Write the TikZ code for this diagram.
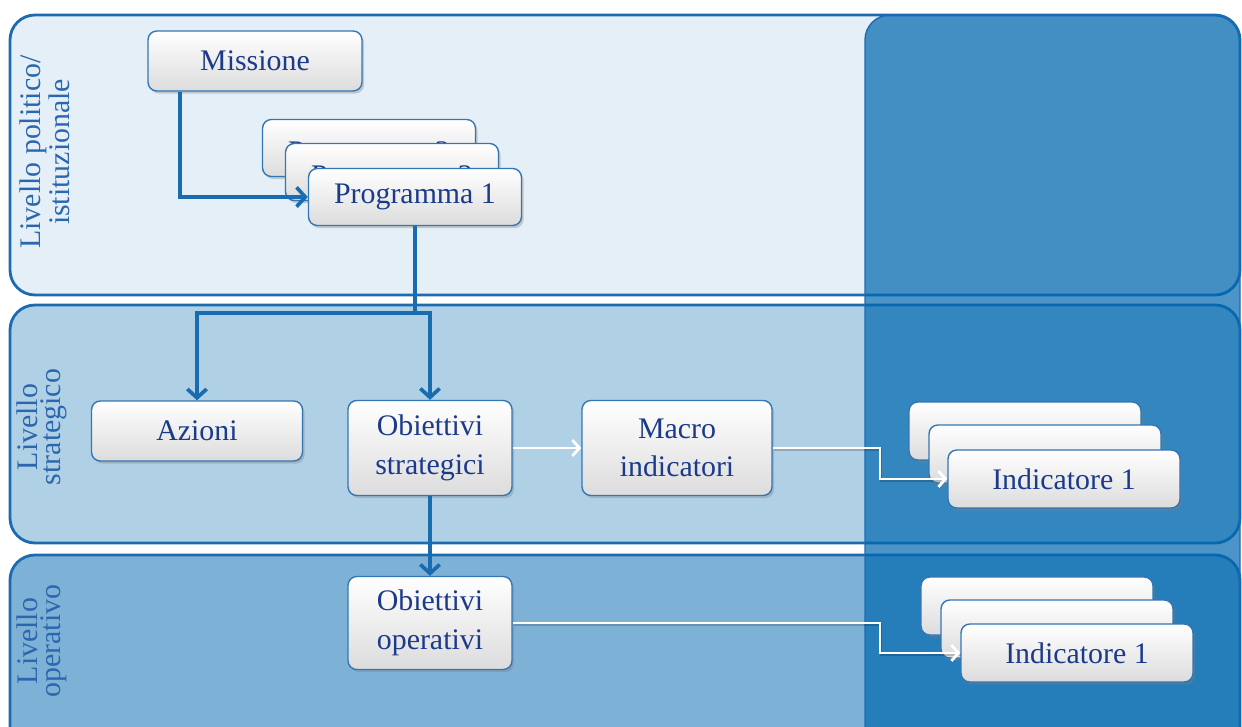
\documentclass[tikz,border=0pt]{standalone}
\usepackage{fontspec}
\setmainfont{Liberation Serif}
\usetikzlibrary{arrows.meta, positioning, shadows, calc}

\definecolor{bandone}{HTML}{E4EFF7}
\definecolor{bandtwo}{HTML}{B0D0E6}
\definecolor{bandthree}{HTML}{7EB1D6}
\definecolor{bandline}{HTML}{1C6BB0}
\definecolor{shadeblue}{RGB}{0,103,175}
\definecolor{boxline}{HTML}{3476B4}
\definecolor{boxgray}{HTML}{DCDCDC}
\definecolor{boxtext}{HTML}{1B3A8A}
\definecolor{labelblue}{HTML}{2A67AE}
\definecolor{linkblue}{HTML}{1A6CB0}

% text of the boxes lying behind, pushed down
\newcommand{\behind}[1]{\raisebox{-4pt}[\height][\depth]{#1}}

\begin{document}
\begin{tikzpicture}[x=0.02cm, y=-0.02cm,
    band/.style={draw=bandline, line width=1.6pt, rounded corners=0.5cm},
    box/.style={draw=boxline, line width=0.8pt, rounded corners=5pt,
        top color=white, bottom color=boxgray,
        drop shadow={shadow xshift=1.2pt, shadow yshift=-1.5pt, opacity=0.35},
        text=boxtext, font=\fontsize{17}{22}\selectfont, align=center, inner sep=2pt},
    progsize/.style={minimum width=4.26cm, minimum height=1.14cm},
    indsize/.style={minimum width=4.64cm, minimum height=1.16cm},
    levellabel/.style={rotate=90, text=labelblue, font=\fontsize{17}{13}\selectfont, align=center},
    link/.style={draw=linkblue, line width=2.1pt, -{Straight Barb[length=5pt,width=11pt]}},
    wlink/.style={draw=white, line width=1.6pt, -{Straight Barb[length=4pt,width=9pt]}},
    wshadow/.style={draw=black, opacity=0.18, line width=1.6pt, transform canvas={xshift=0.6pt, yshift=-0.8pt}}
  ]
  \useasboundingbox (0,0) rectangle (1242,727);
  \clip (0,0) rectangle (1242,727);

  % the three levels
  \draw[band, fill=bandone] (10,15) rectangle (1240,295);
  \draw[band, fill=bandtwo] (10,305) rectangle (1240,543);
  \draw[band, fill=bandthree] (10,555) rectangle (1240,780);

  % dark column on the right
  \draw[draw=bandline, line width=0.8pt, fill=shadeblue, fill opacity=0.7, rounded corners=0.5cm]
    (865,790) -- (865,15) -- (1240,15) -- (1240,790);

  \node[levellabel] (lvpol) at (45,152) {Livello politico/\\istituzionale};
  \node[levellabel] (lvstr) at (42,427) {Livello\\strategico};
  \node[levellabel] (lvop) at (42,641) {Livello\\operativo};

  % political level
  \node[box, minimum width=4.28cm, minimum height=1.2cm] (missione) at (255,61) {Missione};
  \node[box, progsize] (prog3) at (369,148) {\behind{Programma 3}};
  \node[box, progsize] (prog2) at (392,172) {\behind{Programma 2}};
  \node[box, progsize] (prog1) at (415,197) {Programma 1};

  % strategic level
  \node[box, minimum width=4.22cm, minimum height=1.2cm] (azioni) at (197,431) {Azioni};
  \node[box, minimum width=3.28cm, minimum height=1.9cm] (obstrat) at (430,448) {Obiettivi\\strategici};
  \node[box, minimum width=3.8cm, minimum height=1.9cm] (macro) at (677,448) {Macro\\indicatori};
  \node[box, indsize] (ind1c) at (1025,431) {\behind{Indicatore 3}};
  \node[box, indsize] (ind1b) at (1045,454) {\behind{Indicatore 2}};
  \node[box, indsize] (ind1a) at (1064,479) {Indicatore 1};

  % operational level
  \node[box, minimum width=3.28cm, minimum height=1.86cm] (obop) at (430,623) {Obiettivi\\operativi};
  \node[box, indsize] (ind2c) at (1037,606) {\behind{Indicatore 3}};
  \node[box, indsize] (ind2b) at (1057,629) {\behind{Indicatore 2}};
  \node[box, indsize] (ind2a) at (1077,653) {Indicatore 1};

  % connectors
  \coordinate (misdrop) at (180,0);
  \coordinate (fork) at (415,313);
  \coordinate (turn) at (880,0);
  \draw[link] (missione.south -| misdrop) |- (prog1.west);
  \draw[link] (prog1.south) -- (fork) -| (azioni.north);
  \draw[link] (fork) -| (obstrat.north);
  \draw[link] (obstrat.south) -- (obop.north);
  \draw[wshadow] (macro.east) -- (macro.east -| turn) |- (ind1a.west);
  \draw[wshadow] (obop.east) -- (obop.east -| turn) |- (ind2a.west);
  \draw[wlink] (obstrat.east) -- (macro.west);
  \draw[wlink] (macro.east) -- (macro.east -| turn) |- (ind1a.west);
  \draw[wlink] (obop.east) -- (obop.east -| turn) |- (ind2a.west);
\end{tikzpicture}
\end{document}
